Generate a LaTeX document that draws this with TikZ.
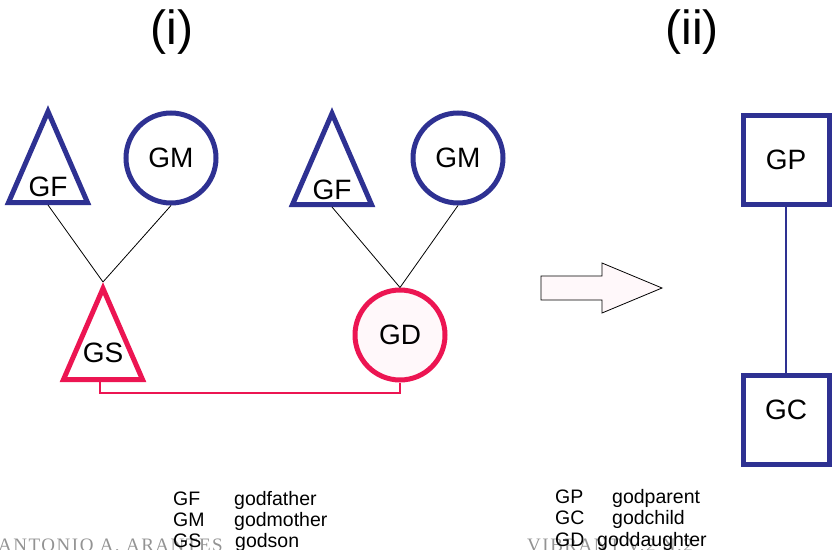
\documentclass[tikz,border=0pt]{standalone}
\usepackage{fontspec}
\setmainfont{Liberation Sans}
\newfontfamily\headfont[LetterSpace=8]{Liberation Serif}
\usetikzlibrary{shapes.geometric}

\definecolor{kinblue}{RGB}{46,49,146}
\definecolor{kinred}{RGB}{236,21,82}
\definecolor{blush}{RGB}{255,248,250}

\tikzset{
  male/.style={isosceles triangle, shape border rotate=90,
    isosceles triangle stretches, minimum width=79pt, minimum height=91pt,
    draw=#1, line width=5pt, inner sep=0pt, anchor=lower side},
  female/.style={circle, draw=#1, line width=5pt, minimum size=90pt,
    inner sep=0pt, font=\fontsize{28}{30}\selectfont},
  person/.style={rectangle, draw=kinblue, line width=5pt, minimum width=86pt,
    minimum height=89pt, inner sep=0pt, font=\fontsize{28}{30}\selectfont},
  tag/.style={inner sep=0pt, font=\fontsize{28}{30}\selectfont},
  title/.style={font=\fontsize{48}{52}\selectfont},
  kin/.style={black, line width=0.8pt},
  link/.style={kinred, line width=2pt},
  key/.style={anchor=base west, inner sep=0pt, font=\fontsize{19.5}{21}\selectfont},
  runhead/.style={anchor=base west, inner sep=0pt, text=gray!85,
    font=\headfont\fontsize{19}{21}\selectfont},
}

\begin{document}
\begin{tikzpicture}[x=1pt,y=-1pt]
    \useasboundingbox (0,0) rectangle (832,549);

    % Titles
    \node[title] (ti) at (172,32) {(i)};
    \node[title] (tii) at (692,32) {(ii)};

    % Nodes, godson side
    \node[male=kinblue] (gfA) at (48,205) {};
    \node[tag] (gfA-t) at ([yshift=18pt]gfA.lower side) {GF};
    \node[female=kinblue] (gmA) at (171,158) {GM};
    \node[male=kinred] (gsA) at (103,382) {};
    \node[tag] (gsA-t) at ([yshift=29pt]gsA.lower side) {GS};

    % Nodes, goddaughter side
    \node[male=kinblue] (gfB) at (332,207) {};
    \node[tag] (gfB-t) at ([yshift=17pt]gfB.lower side) {GF};
    \node[female=kinblue] (gmB) at (458,158) {GM};
    \node[female=kinred, fill=blush] (gdB) at (400,335) {GD};

    \draw[kin] (gfA.lower side) -- (gsA.apex);
    \draw[kin] (gmA.south)      -- (gsA.apex);
    \draw[kin] (gfB.lower side) -- (gdB.north);
    \draw[kin] (gmB.south)      -- (gdB.north);
    \draw[link] ([xshift=-3pt]gsA.lower side) -- ++(0,11) -| (gdB.south);

    % Arrow
    \draw[black, line width=0.8pt, fill=blush]
      (541,276) -- (602,276) -- (602,263) -- (662,288)
      -- (602,313) -- (602,300) -- (541,300) -- cycle;

    % Nodes, (ii)
    \node[person] (gp) at (786,160) {GP};
    \node[person, text depth=20pt] (gc) at (786,420) {GC};
    \draw[kinblue, line width=2pt] (gp.south) -- (gc.north);

    % Legends
    \node[runhead] (rhA) at (-2,551) {ANTONIO A. ARANTES};
    \node[runhead] (rhB) at (527,551) {VIBRANT V.2 N.2};

    \node[key] (kGF) at (173,505) {GF};
    \node[key] (kgf) at (234,505) {godfather};
    \node[key] (kGM) at (173,526) {GM};
    \node[key] (kgm) at (234,526) {godmother};
    \node[key] (kGS) at (173,547) {GS};
    \node[key] (kgs) at (235,547) {godson};

    \node[key] (kGP) at (555,503) {GP};
    \node[key] (kgp) at (612,503) {godparent};
    \node[key] (kGC) at (555,524) {GC};
    \node[key] (kgc) at (612,524) {godchild};
    \node[key] (kGD) at (555,546) {GD};
    \node[key] (kgd) at (597,546) {goddaughter};
\end{tikzpicture}
\end{document}
